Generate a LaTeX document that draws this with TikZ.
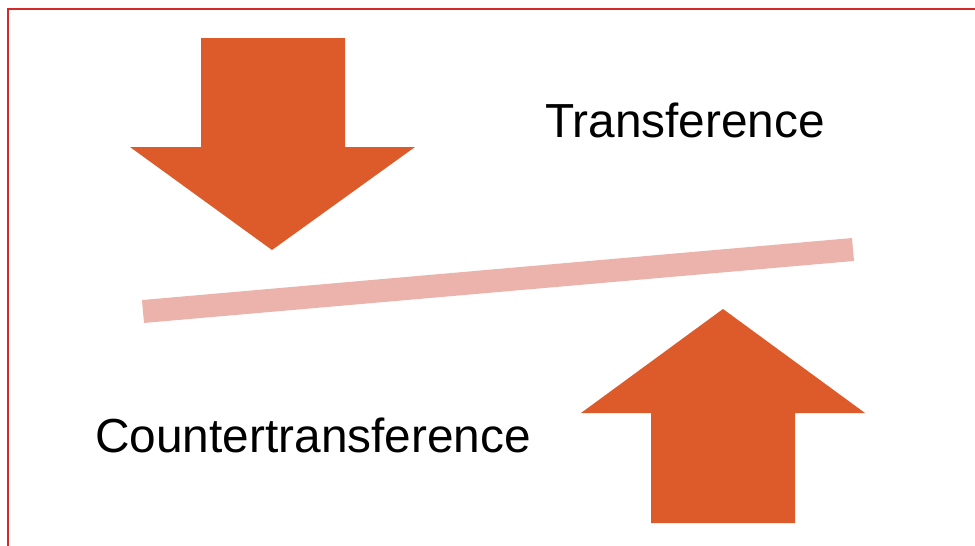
\documentclass[tikz,border=0pt]{standalone}
\usepackage{fontspec}
\setmainfont{Liberation Sans}
\definecolor{arroworange}{HTML}{DD5A2B}
\definecolor{barpink}{HTML}{EBB3AC}
\definecolor{frame}{HTML}{D42A2A}
\begin{document}
\begin{tikzpicture}[x=1pt,y=-1pt,
  bigarrow/.style={fill=arroworange,draw=none},
  label/.style={anchor=base west,inner sep=0pt,font=\fontsize{47.8}{57}\selectfont,text=black}]
\useasboundingbox (0,0) rectangle (975,546);
\fill[white] (0,0) rectangle (975,546);
% frame
\draw[frame,line width=2.6pt] (8,560) -- (8,9) -- (990,9);
% down arrow
\fill[bigarrow] (201,38) -- (345,38) -- (345,147) -- (415,147) -- (272,250) -- (130,147) -- (201,147) -- cycle;
% up arrow
\fill[bigarrow] (651,523) -- (795,523) -- (795,413) -- (865,413) -- (723,309) -- (581,413) -- (651,413) -- cycle;
% bar
\coordinate (barL) at (143,311.5);
\coordinate (barR) at (853,249.5);
\draw[barpink,line width=23pt] (barL) -- (barR);
% labels
\node[label] (trans) at (545,137) {Transference};
\node[label] (counter) at (95,452) {Countertransference};
\end{tikzpicture}
\end{document}
